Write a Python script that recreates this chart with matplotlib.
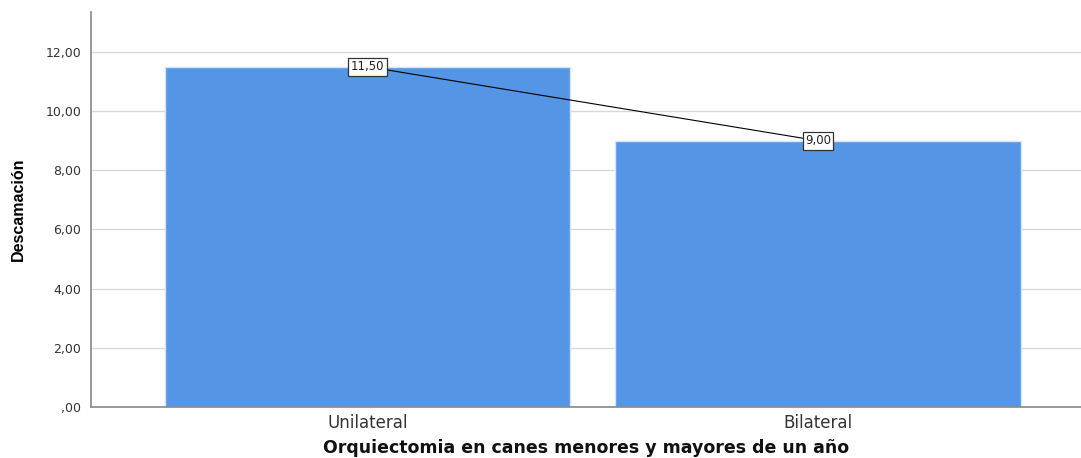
import matplotlib
matplotlib.use("Agg")
import matplotlib.pyplot as plt
from matplotlib.ticker import FuncFormatter

categories = ["Unilateral", "Bilateral"]
values = [11.50, 9.00]
yticks = [0, 2, 4, 6, 8, 10, 12]

plt.rcParams['font.family'] = ['DejaVu Sans']

fig = plt.figure(figsize=(10.81, 4.58), dpi=100)
ax = fig.add_axes([0.0842, 0.1114, 0.9158, 0.8624])

x = list(range(len(categories)))
ax.bar(x, values, width=0.9, color="#5595E5", edgecolor="#d6e6fa", linewidth=1.0, zorder=2)
ax.plot(x, values, color="black", linewidth=0.8, zorder=3)
for xi, v in zip(x, values):
    ax.text(xi, v, f"{v:.2f}".replace(".", ","), ha="center", va="center", fontsize=8.5,
            color="#222222", zorder=4,
            bbox=dict(boxstyle="square,pad=0.2", facecolor="white", edgecolor="#333333", linewidth=0.9))

ax.set_xlim(-0.614, 1.584)
ax.set_ylim(0, 13.35)
ax.set_yticks(yticks)
def fmt(v, pos):
    s = f"{v:.2f}".replace(".", ",")
    if s.startswith("0,"):
        s = s[1:]
    return s
ax.yaxis.set_major_formatter(FuncFormatter(fmt))
ax.set_xticks(x)
ax.set_xticklabels(categories, fontsize=12, color="#333333")
ax.tick_params(axis="y", length=0, labelsize=9, pad=7, labelcolor="#333333")
ax.tick_params(axis="x", length=0, pad=5)
ax.grid(axis="y", color="#d9d9d9", linewidth=1.0, zorder=0)
ax.set_axisbelow(True)
for s in ["top", "right"]:
    ax.spines[s].set_visible(False)
ax.spines["left"].set_color("#888888")
ax.spines["bottom"].set_color("#888888")
ax.spines["left"].set_linewidth(1.2)
ax.spines["bottom"].set_linewidth(1.2)

ax.set_xlabel("Orquiectomia en canes menores y mayores de un año", fontsize=12.5, fontweight="bold",
              labelpad=5, color="#111111")
ax.set_ylabel("Descamación", fontsize=11.5, fontweight="bold",
              family=["Liberation Sans Narrow", "Liberation Sans", "DejaVu Sans"], labelpad=14)

fig.savefig("out.png", dpi=100)
